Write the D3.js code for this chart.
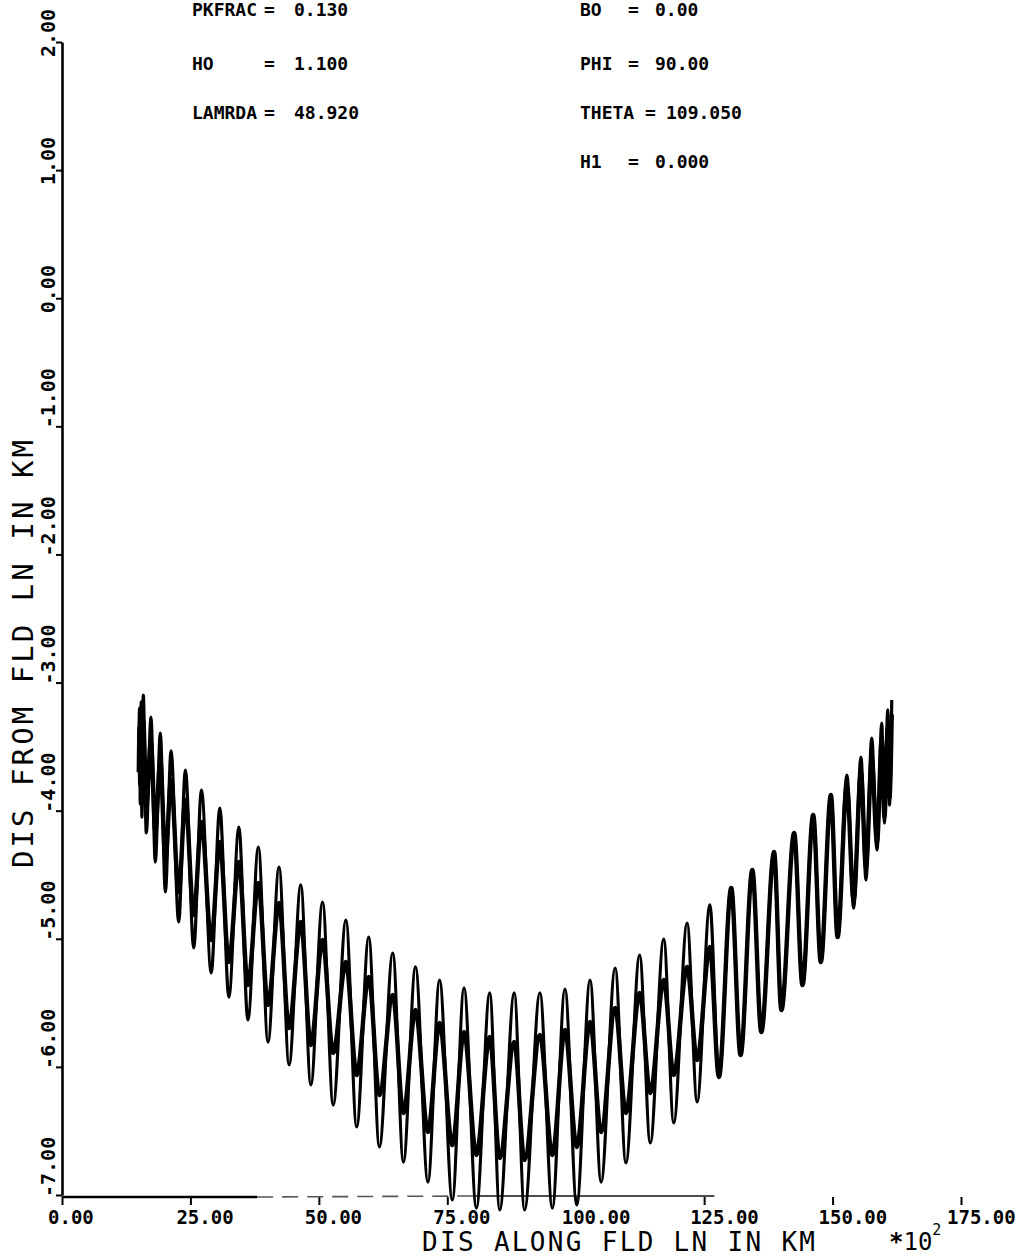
<!DOCTYPE html>
<html>
<head>
<meta charset="utf-8">
<script src="https://cdn.jsdelivr.net/npm/d3@7/dist/d3.min.js"></script>
<style>
  html, body { margin: 0; padding: 0; background: #fff; }
  svg { display: block; }
  text { font-family: "DejaVu Sans Mono", "Liberation Mono", monospace; fill: #000; }
</style>
</head>
<body>
<svg id="chart" width="1033" height="1257"></svg>
<script>
// ---- run parameters printed above the plot ----
const paramNames  = ["PKFRAC", "HO", "LAMRDA", "BO", "PHI", "THETA", "H1"];
const paramValues = ["0.130", "1.100", "48.920", "0.00", "90.00", "109.050", "0.000"];

// ---- axes ----
const xTicks = [0, 25, 50, 75, 100, 125, 150, 175];
const xTickLabels = ["0.00", "25.00", "50.00", "75.00", "100.00", "125.00", "150.00", "175.00"];
const yTicks = [2, 1, 0, -1, -2, -3, -4, -5, -6, -7];
const yTickLabels = ["2.00", "1.00", "0.00", "-1.00", "-2.00", "-3.00", "-4.00", "-5.00", "-6.00", "-7.00"];
const xTitle = "DIS ALONG FLD LN IN KM";
const yTitle = "DIS FROM FLD LN IN KM";

// ---- trajectories: successive crests and troughs (distance along, distance from) ----
const traceOuter = [
  [14.95,-3.500],[15.10,-3.200],[15.23,-3.950],[15.40,-3.150],[15.55,-4.050],
  [15.82,-3.097],[16.41,-4.174],[17.32,-3.269],[18.16,-4.401],
  [19.14,-3.394],[20.12,-4.635],[21.23,-3.534],[22.71,-4.869],[24.02,-3.683],[25.64,-5.072],
  [27.15,-3.839],[29.04,-5.267],[30.72,-3.979],[32.48,-5.455],[34.43,-4.128],[36.19,-5.634],
  [38.22,-4.284],[40.10,-5.806],[42.25,-4.440],[44.20,-5.985],[46.48,-4.580],[48.44,-6.141],
  [50.72,-4.713],[52.79,-6.298],[55.27,-4.854],[57.36,-6.469],[59.71,-4.986],[61.78,-6.625],
  [64.39,-5.111],[66.46,-6.743],[68.81,-5.220],[71.23,-6.899],[73.50,-5.322],[75.98,-7.039],
  [78.26,-5.384],[80.66,-7.102],[83.26,-5.423],[85.21,-7.117],[88.03,-5.423],[90.04,-7.117],
  [93.03,-5.423],[95.45,-7.102],[97.91,-5.392],[100.20,-7.078],[102.79,-5.322],[104.94,-6.899],
  [107.68,-5.228],[109.77,-6.750],[112.44,-5.127],[114.51,-6.594],[117.13,-5.002],[119.08,-6.438],
  [121.68,-4.877],[123.63,-6.274],[126.11,-4.736],[127.87,-6.079],[130.27,-4.604],[132.09,-5.907],
  [134.38,-4.463],[136.13,-5.728],[138.61,-4.323],[140.04,-5.556],[142.52,-4.174],[144.14,-5.361],
  [146.23,-4.034],[147.71,-5.181],[149.67,-3.878],[150.98,-4.986],[152.79,-3.722],[154.10,-4.760],
  [155.53,-3.581],[156.50,-4.541],[157.62,-3.433],[158.65,-4.307],[159.57,-3.316],[160.10,-4.096],
  [160.74,-3.214],[161.07,-3.956],[161.52,-3.136]
];

const traceInner = [
  [14.95,-3.700],[15.10,-3.350],[15.23,-3.800],[15.40,-3.300],[15.55,-3.850],
  [15.82,-3.292],[16.41,-3.956],[17.32,-3.464],[18.16,-4.167],
  [19.14,-3.605],[20.12,-4.385],[21.23,-3.761],[22.71,-4.635],[24.02,-3.917],[25.64,-4.814],
  [27.15,-4.089],[29.04,-5.010],[30.72,-4.245],[32.48,-5.181],[34.43,-4.401],[36.19,-5.361],
  [38.22,-4.565],[40.10,-5.517],[42.25,-4.721],[44.20,-5.697],[46.48,-4.869],[48.44,-5.829],
  [50.72,-5.010],[52.79,-5.892],[55.27,-5.181],[57.36,-6.063],[59.71,-5.298],[61.78,-6.220],
  [64.39,-5.439],[66.46,-6.360],[68.81,-5.556],[71.23,-6.508],[73.50,-5.658],[75.98,-6.610],
  [78.26,-5.728],[80.66,-6.688],[83.26,-5.767],[85.21,-6.711],[88.03,-5.806],[90.04,-6.727],
  [93.03,-5.751],[95.45,-6.688],[97.91,-5.712],[100.20,-6.625],[102.79,-5.650],[104.94,-6.508],
  [107.68,-5.540],[109.77,-6.360],[112.44,-5.423],[114.51,-6.204],[117.13,-5.322],[119.08,-6.063],
  [121.68,-5.220],[123.63,-5.946],[126.11,-5.064],[127.87,-6.079],[130.27,-4.604],[132.09,-5.907],
  [134.38,-4.463],[136.13,-5.728],[138.61,-4.323],[140.04,-5.556],[142.52,-4.174],[144.14,-5.361],
  [146.23,-4.034],[147.71,-5.181],[149.67,-3.878],[150.98,-4.986],[152.79,-3.800],[154.10,-4.700],
  [155.53,-3.700],[156.50,-4.450],[157.62,-3.600],[158.65,-4.250],[159.57,-3.450],[160.10,-4.050],
  [160.74,-3.350],[161.07,-3.900],[161.52,-3.250]
];

const svg = d3.select("#chart");

const x = d3.scaleLinear().domain([0, 175]).range([62, 961]);
const y = d3.scaleLinear().domain([-7, 2]).range([1195, 42]);

// ---- y axis: line and ticks from d3, labels written sideways ----
const yAxis = svg.append("g")
  .attr("transform", `translate(${x(0)},0)`)
  .call(d3.axisLeft(y).tickValues(yTicks).tickSize(6).tickSizeOuter(0).tickFormat(""));
yAxis.select(".domain").attr("stroke", "#000").attr("stroke-width", 2.6);
yAxis.selectAll(".tick line").attr("stroke", "#000").attr("stroke-width", 2);

svg.append("g").selectAll("text")
  .data(yTicks)
  .join("text")
  .attr("transform", (d, i) => {
    const off = yTickLabels[i].startsWith("-") ? 2 : 15;
    return `translate(55,${y(d) + off}) rotate(-90)`;
  })
  .attr("text-anchor", "start")
  .attr("font-size", 20)
  .attr("font-weight", "bold")
  .text((d, i) => yTickLabels[i]);

svg.append("text")
  .attr("transform", "translate(33,868) rotate(-90)")
  .attr("text-anchor", "start")
  .attr("font-size", 29)
  .attr("textLength", 428)
  .attr("lengthAdjust", "spacing")
  .text(yTitle);

// ---- x axis: ticks from d3, the base line is only partly inked ----
const baseY = 1197;
const xAxis = svg.append("g")
  .attr("transform", `translate(0,${baseY})`)
  .call(d3.axisBottom(x).tickValues(xTicks).tickSize(8).tickSizeOuter(0).tickFormat(""));
xAxis.select(".domain").remove();
xAxis.selectAll(".tick line").attr("stroke", "#000").attr("stroke-width", 2);

svg.append("line").attr("x1", x(0)).attr("x2", x(38)).attr("y1", baseY).attr("y2", baseY)
  .attr("stroke", "#000").attr("stroke-width", 2.6);
svg.append("line").attr("x1", x(38)).attr("x2", x(80)).attr("y1", baseY).attr("y2", baseY - 1)
  .attr("stroke", "#555").attr("stroke-width", 1.6).attr("stroke-dasharray", "16,9");
svg.append("line").attr("x1", x(80)).attr("x2", x(127)).attr("y1", baseY - 1).attr("y2", baseY - 1)
  .attr("stroke", "#111").attr("stroke-width", 1.5);

svg.append("g").selectAll("text")
  .data(xTicks)
  .join("text")
  .attr("x", d => x(d) - 14)
  .attr("y", 1224)
  .attr("font-size", 19)
  .attr("font-weight", "bold")
  .text((d, i) => xTickLabels[i]);

svg.append("text")
  .attr("x", 422).attr("y", 1251)
  .attr("font-size", 26)
  .attr("textLength", 393)
  .attr("lengthAdjust", "spacing")
  .text(xTitle);

const mult = svg.append("text").attr("x", 889).attr("y", 1250).attr("font-size", 24);
mult.append("tspan").attr("font-weight", "bold").text("*");
mult.append("tspan").text("10");
mult.append("tspan").attr("dy", -15).attr("font-size", 15).text("2");

// ---- parameter block ----
const rowY = [16, 70, 119, 168];
const leftCol = [0, 1, 2], rightCol = [3, 4, 5, 6];
const hdr = svg.append("g").attr("font-size", 18).attr("font-weight", "bold");
leftCol.forEach((k, r) => {
  hdr.append("text").attr("x", 192).attr("y", rowY[r]).text(paramNames[k]);
  hdr.append("text").attr("x", 264).attr("y", rowY[r]).text("=");
  hdr.append("text").attr("x", 294).attr("y", rowY[r]).text(paramValues[k]);
});
rightCol.forEach((k, r) => {
  hdr.append("text").attr("x", 580).attr("y", rowY[r]).text(paramNames[k]);
  hdr.append("text").attr("x", k === 5 ? 645 : 628).attr("y", rowY[r]).text("=");
  hdr.append("text").attr("x", k === 5 ? 666 : 655).attr("y", rowY[r]).text(paramValues[k]);
});

// ---- trajectories ----
const line = d3.line()
  .x(d => x(d[0]))
  .y(d => y(d[1]))
  .curve(d3.curveMonotoneX);

svg.append("path")
  .attr("d", line(traceOuter))
  .attr("fill", "none").attr("stroke", "#000").attr("stroke-width", 3.2)
  .attr("stroke-linejoin", "round");
svg.append("path")
  .attr("d", line(traceInner))
  .attr("fill", "none").attr("stroke", "#000").attr("stroke-width", 4.4)
  .attr("stroke-linejoin", "round");
</script>
</body>
</html>
